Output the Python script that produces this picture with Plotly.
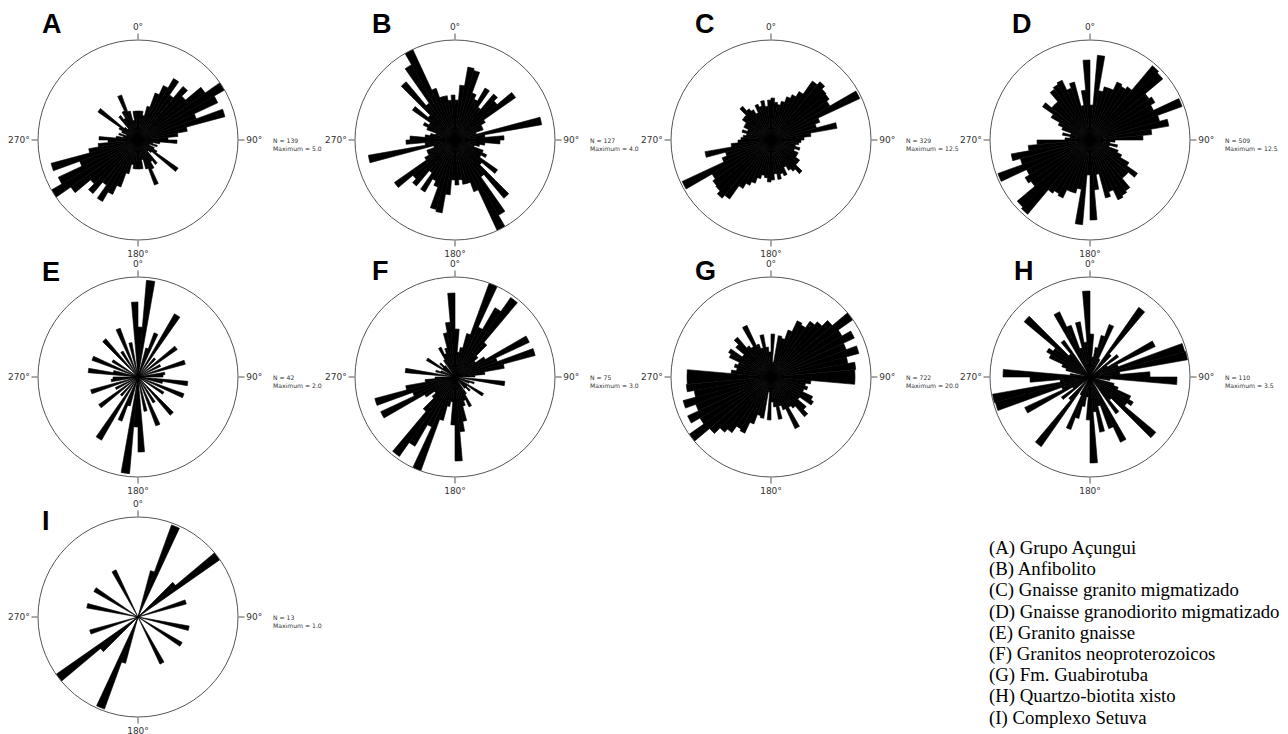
import plotly.graph_objects as go

# The page body has an 8px default margin, so the figure is drawn 8px in from
# the top-left corner of the screenshot; positions below are screenshot pixels.
OFF = 8
W, H = 1288 - OFF, 734 - OFF
R = 100  # circle radius in px

# bin starts (degrees) for axial (bidirectional) rose data, 5-degree bins 0..175
bin_starts = list(range(0, 180, 5))

# relative petal lengths (fraction of the diagram's Maximum) per bin, 0..175 deg
rose_A = [0.29, 0.29, 0.25, 0.35, 0.50, 0.60, 0.71, 0.55, 0.70, 0.62, 0.82, 1.00,
          0.88, 0.62, 0.90, 0.50, 0.40, 0.30, 0.39, 0.22, 0.15, 0.20, 0.12, 0.18,
          0.22, 0.49, 0.18, 0.15, 0.30, 0.25, 0.32, 0.48, 0.30, 0.20, 0.29, 0.29]
rose_B = [0.40, 0.55, 0.74, 0.72, 0.50, 0.45, 0.60, 0.40, 0.60, 0.55, 0.74, 0.35,
          0.30, 0.30, 0.22, 0.88, 0.30, 0.49, 0.45, 0.30, 0.25, 0.20, 0.30, 0.35,
          0.30, 0.52, 0.35, 0.76, 0.45, 0.87, 1.00, 0.55, 0.45, 0.45, 0.40, 0.45]
rose_C = [0.42, 0.38, 0.36, 0.40, 0.46, 0.50, 0.56, 0.72, 0.76, 0.72, 0.71, 0.68,
          0.98, 0.52, 0.47, 0.67, 0.40, 0.33, 0.30, 0.28, 0.25, 0.30, 0.25, 0.30,
          0.30, 0.35, 0.35, 0.44, 0.38, 0.35, 0.30, 0.38, 0.35, 0.40, 0.34, 0.40]
rose_D = [0.35, 0.85, 0.50, 0.55, 0.55, 0.64, 0.62, 0.65, 0.97, 0.95, 0.72, 0.75,
          0.70, 0.98, 0.72, 0.80, 0.62, 0.53, 0.25, 0.20, 0.28, 0.20, 0.30, 0.35,
          0.45, 0.58, 0.50, 0.50, 0.62, 0.64, 0.66, 0.55, 0.60, 0.35, 0.50, 0.80]
rose_E = [0.50, 0.97, 0.00, 0.30, 0.47, 0.00, 0.73, 0.00, 0.25, 0.00, 0.48, 0.00,
          0.25, 0.00, 0.49, 0.00, 0.27, 0.25, 0.00, 0.50, 0.25, 0.00, 0.49, 0.00,
          0.30, 0.00, 0.00, 0.50, 0.00, 0.30, 0.00, 0.52, 0.00, 0.35, 0.00, 0.75]
rose_F = [0.48, 0.25, 0.30, 0.45, 1.00, 0.55, 0.80, 0.97, 0.45, 0.30, 0.25, 0.35,
          0.82, 0.45, 0.83, 0.50, 0.30, 0.20, 0.00, 0.50, 0.00, 0.20, 0.15, 0.00,
          0.33, 0.15, 0.20, 0.15, 0.00, 0.20, 0.33, 0.25, 0.30, 0.45, 0.55, 0.84]
rose_G = [0.43, 0.15, 0.42, 0.40, 0.50, 0.62, 0.60, 0.68, 0.72, 0.80, 1.00, 0.82,
          0.92, 0.80, 0.91, 0.78, 0.85, 0.84, 0.84, 0.40, 0.35, 0.38, 0.35, 0.46,
          0.49, 0.35, 0.46, 0.52, 0.38, 0.35, 0.57, 0.35, 0.30, 0.43, 0.30, 0.25]
rose_H = [0.43, 0.20, 0.30, 0.43, 0.56, 0.20, 0.00, 0.85, 0.30, 0.00, 0.35, 0.20,
          0.72, 0.30, 0.98, 0.99, 0.30, 0.60, 0.87, 0.20, 0.00, 0.25, 0.30, 0.45,
          0.50, 0.45, 0.86, 0.30, 0.45, 0.00, 0.72, 0.55, 0.30, 0.56, 0.35, 0.86]
rose_I = [0.00, 0.00, 0.00, 0.48, 0.98, 0.00, 0.00, 0.00, 0.00, 0.49, 1.00, 0.00,
          0.00, 0.00, 0.50, 0.00, 0.00, 0.00, 0.00, 0.00, 0.52, 0.00, 0.00, 0.00,
          0.51, 0.00, 0.00, 0.00, 0.00, 0.00, 0.52, 0.00, 0.00, 0.00, 0.00, 0.00]

labels = ["A", "B", "C", "D", "E", "F", "G", "H", "I"]
roses = [rose_A, rose_B, rose_C, rose_D, rose_E, rose_F, rose_G, rose_H, rose_I]
n_values = [139, 127, 329, 509, 42, 75, 722, 110, 13]
maximum_values = ["5.0", "4.0", "12.5", "12.5", "2.0", "3.0", "20.0", "3.5", "1.0"]
tick_labels = ["0°", "90°", "180°", "270°"]
legend_lines = ["(A) Grupo Açungui", "(B) Anfibolito", "(C) Gnaisse granito migmatizado",
                "(D) Gnaisse granodiorito migmatizado", "(E) Granito gnaisse",
                "(F) Granitos neoproterozoicos", "(G) Fm. Guabirotuba",
                "(H) Quartzo-biotita xisto", "(I) Complexo Setuva"]

# layout positions (screenshot pixels)
col_x = [138, 455, 771, 1090]
row_y = [140, 377, 617]
letter_pos = [(40, 24), (370, 24), (693, 24), (1010, 24),
              (40, 272), (370, 271), (693, 271), (1012, 271), (40, 521)]


def px(sx):
    return (sx - OFF) / W


def py(sy):
    return 1 - (sy - OFF) / H


fig = go.Figure()
annotations = []

for i, (lab, half) in enumerate(zip(labels, roses)):
    cx = col_x[i % 4]
    cy = row_y[i // 4]
    pid = "polar" if i == 0 else f"polar{i + 1}"
    theta = [b + 2.5 for b in bin_starts] + [b + 182.5 for b in bin_starts]
    r = list(half) + list(half)
    fig.add_trace(go.Barpolar(
        r=r, theta=theta, width=[5] * len(theta), subplot=pid,
        marker=dict(color="black", line=dict(color="black", width=0.6)),
        showlegend=False, hoverinfo="skip"))
    fig.update_layout(**{pid: dict(
        domain=dict(x=[px(cx - R), px(cx + R)], y=[py(cy + R), py(cy - R)]),
        bgcolor="white",
        radialaxis=dict(visible=False, range=[0, 1], showgrid=False),
        angularaxis=dict(rotation=90, direction="clockwise",
                         tickmode="array", tickvals=[0, 90, 180, 270],
                         ticktext=tick_labels, showgrid=False,
                         showline=True, linecolor="#555555", linewidth=1,
                         ticks="outside", ticklen=6, tickcolor="#555555",
                         tickfont=dict(family="DejaVu Sans", size=9, color="#333333")),
    )})
    annotations.append(dict(
        x=px(cx + 134), y=py(cy + 4), xref="paper", yref="paper",
        xanchor="left", yanchor="middle", showarrow=False, align="left",
        borderpad=0,
        text=f"N = {n_values[i]}<br>Maximum = {maximum_values[i]}",
        font=dict(family="DejaVu Sans", size=6.1, color="#333333")))
    lx, ly = letter_pos[i]
    annotations.append(dict(
        x=px(lx), y=py(ly), xref="paper", yref="paper",
        xanchor="left", yanchor="middle", showarrow=False,
        text=f"<b>{lab}</b>",
        font=dict(family="Liberation Sans", size=27, color="black")))

for j, line in enumerate(legend_lines):
    annotations.append(dict(
        x=px(987), y=py(548 + j * 21.2), xref="paper", yref="paper",
        xanchor="left", yanchor="middle", showarrow=False, text=line,
        font=dict(family="Liberation Serif", size=18.8, color="black")))

fig.update_layout(
    width=W, height=H,
    margin=dict(l=0, r=0, t=0, b=0),
    paper_bgcolor="white",
    annotations=annotations,
    showlegend=False,
)

fig.write_html("out.html")
